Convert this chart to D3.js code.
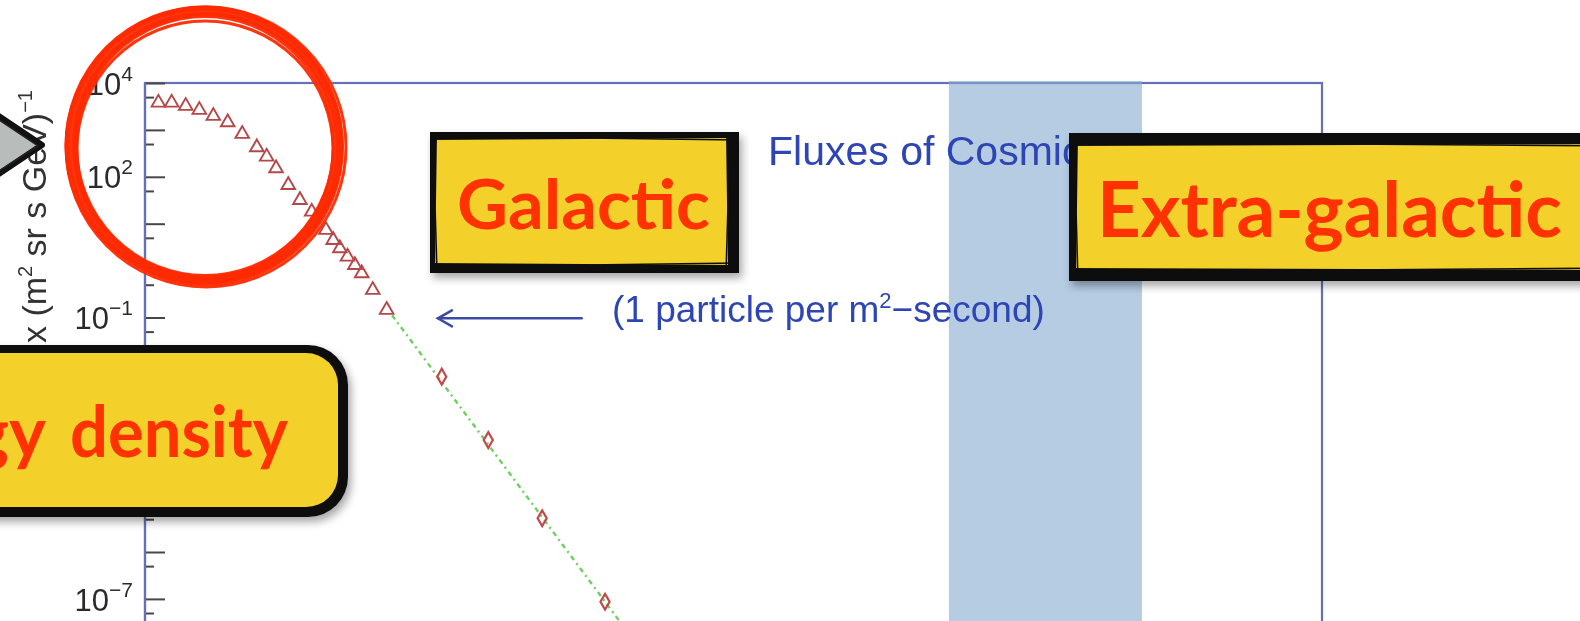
<!DOCTYPE html>
<html>
<head>
<meta charset="utf-8">
<script src="https://cdn.jsdelivr.net/npm/d3@7"></script>
<style>
  html, body { margin: 0; padding: 0; background: #ffffff; overflow: hidden; }
  svg { display: block; }
</style>
</head>
<body>
<svg id="chart" width="1580" height="621"></svg>
<script>
// ---- Measured cosmic-ray fluxes (energy in eV, flux in (m^2 sr s GeV)^-1) ----
const protonEnergy = [1.37e9, 1.87e9, 2.60e9, 3.58e9, 4.97e9, 6.97e9, 9.8e9, 1.38e10,
  1.74e10, 2.17e10, 2.89e10, 3.80e10, 5.01e10, 7.0e10, 8.3e10, 9.7e10, 1.16e11,
  1.38e11, 1.62e11, 2.10e11, 2.91e11];
const protonFlux = [3800, 3800, 3240, 2660, 1980, 1450, 818, 426, 268, 152, 66.8,
  32, 18, 7.35, 4.49, 2.99, 1.98, 1.31, 0.876, 0.386, 0.145];

const airEnergy = [1.06e12, 3.16e12, 1.12e13, 4.90e13];
const airFlux = [5.47e-3, 2.44e-4, 5.24e-6, 8.7e-8];

// power-law guide (E^-2.8) through the high-energy points
const fitEnergy = [3.3e11, 1e14];
const fitFlux = [0.112, 1.17e-8];

// shaded energy range
const bandEnergy = [1.57e17, 1.46e19];

// "1 particle per m^2-second" marker
const particleArrowEnergy = [2.83e13, 9.7e11];
const particleArrowFlux = 0.096;

// y axis ticks: every decade, half-decade minors, labels every few decades
const decadeExponents = d3.range(4, -9, -1);
const labelExponents = [4, 2, -1, -7];

const chartTitle = "Fluxes of Cosmic Rays";
const yTitleParts = ["Flux (m", "2", " sr s GeV)", "\u22121"];
const particleText = ["(1 particle per m", "2", "\u2212second)"];

const labels = { galactic: "Galactic", extra: "Extra-galactic", densityA: "Energy", densityB: "density" };

// ---- Layout ----
const W = 1580, H = 621;
const plotLeft = 145, plotRight = 1322, plotTop = 83, decadePx = 46.9;
const chartFont = "'Liberation Sans', Arial, Helvetica, sans-serif";
const blueText = "#2d45b6";
const frameColor = "#6670b8";
const yellow = "#f4d12a";
const annoRed = "#ff3000";

const x = d3.scaleLog().domain([1e9, 1e21]).range([plotLeft, plotRight]);
const y = d3.scaleLog().domain([1e4, 1e-8]).range([plotTop, plotTop + 12 * decadePx]);

const svg = d3.select("#chart");
const defs = svg.append("defs");
const shadow = defs.append("filter").attr("id", "shadow")
  .attr("x", "-20%").attr("y", "-20%").attr("width", "140%").attr("height", "150%");
shadow.append("feDropShadow").attr("dx", 3).attr("dy", 5).attr("stdDeviation", 4)
  .attr("flood-color", "#000").attr("flood-opacity", 0.35);
const soft = defs.append("filter").attr("id", "soft");
soft.append("feGaussianBlur").attr("stdDeviation", 0.5);

const chart = svg.append("g").attr("filter", "url(#soft)");

// plot frame
chart.append("rect")
  .attr("x", plotLeft).attr("y", plotTop)
  .attr("width", plotRight - plotLeft).attr("height", y.range()[1] - plotTop)
  .attr("fill", "none").attr("stroke", frameColor).attr("stroke-width", 2.2);

// shaded band
chart.append("rect")
  .attr("x", x(bandEnergy[0])).attr("y", plotTop - 2)
  .attr("width", x(bandEnergy[1]) - x(bandEnergy[0])).attr("height", H)
  .attr("fill", "#84aad0").attr("opacity", 0.6);

// title
chart.append("text")
  .attr("x", 768).attr("y", 165)
  .attr("font-family", chartFont).attr("font-size", 41)
  .attr("fill", blueText).text(chartTitle);

// y axis: decade ticks (long) and half-decade ticks (short), drawn inward
const yMajor = d3.axisLeft(y)
  .tickValues(decadeExponents.map(e => Math.pow(10, e)))
  .tickSize(-20).tickPadding(12).tickFormat(() => "");
const gMajor = chart.append("g").attr("transform", `translate(${plotLeft},0)`).call(yMajor);
gMajor.select(".domain").remove();
gMajor.attr("font-family", chartFont).attr("font-size", 31);
gMajor.selectAll(".tick line").attr("stroke", "#474747").attr("stroke-width", 2);
gMajor.selectAll(".tick").each(function (d) {
  const e = Math.round(Math.log10(d));
  const t = d3.select(this).select("text");
  if (!labelExponents.includes(e)) { t.remove(); return; }
  t.attr("fill", "#2b2b2b").attr("dy", "0.36em");
  t.append("tspan").text("10");
  t.append("tspan").attr("font-size", 21).attr("dy", -14)
    .text(String(e).replace("-", "\u2212"));
});

const yMinor = d3.axisLeft(y)
  .tickValues(decadeExponents.map(e => 5 * Math.pow(10, e - 1)))
  .tickSize(-9).tickFormat(() => "");
const gMinor = chart.append("g").attr("transform", `translate(${plotLeft},0)`).call(yMinor);
gMinor.select(".domain").remove();
gMinor.selectAll(".tick text").remove();
gMinor.selectAll(".tick line").attr("stroke", "#474747").attr("stroke-width", 2);

// left axis line on top of the ticks
chart.append("line")
  .attr("x1", plotLeft).attr("x2", plotLeft)
  .attr("y1", plotTop).attr("y2", H)
  .attr("stroke", frameColor).attr("stroke-width", 2.2);

// y axis title
const yTitle = chart.append("text")
  .attr("transform", "translate(46,90) rotate(-90)")
  .attr("text-anchor", "end")
  .attr("font-family", chartFont).attr("font-size", 34)
  .attr("fill", "#333");
yTitle.append("tspan").text(yTitleParts[0]);
yTitle.append("tspan").attr("font-size", 20).attr("dy", -14).text(yTitleParts[1]);
yTitle.append("tspan").attr("dy", 14).text(yTitleParts[2]);
yTitle.append("tspan").attr("font-size", 20).attr("dy", -14).text(yTitleParts[3]);

// power-law guide
const line = d3.line().x(d => x(d[0])).y(d => y(d[1]));
chart.append("path")
  .datum(d3.zip(fitEnergy, fitFlux))
  .attr("d", line)
  .attr("fill", "none").attr("stroke", "#6fcf62").attr("stroke-width", 2.4)
  .attr("stroke-dasharray", "5,4,2,4");

// triangles
chart.append("g").selectAll("path")
  .data(d3.zip(protonEnergy, protonFlux))
  .join("path")
  .attr("transform", d => `translate(${x(d[0])},${y(d[1])})`)
  .attr("d", d3.symbol().type(d3.symbolTriangle).size(80))
  .attr("fill", "none").attr("stroke", "#b5474a").attr("stroke-width", 1.9);

// diamonds
chart.append("g").selectAll("path")
  .data(d3.zip(airEnergy, airFlux))
  .join("path")
  .attr("transform", d => `translate(${x(d[0])},${y(d[1])})`)
  .attr("d", d3.symbol().type(d3.symbolDiamond).size(72))
  .attr("fill", "none").attr("stroke", "#c24848").attr("stroke-width", 2.2);

// particle-rate marker
const ay = y(particleArrowFlux);
const ax0 = x(particleArrowEnergy[0]), ax1 = x(particleArrowEnergy[1]);
const arrow = chart.append("g").attr("stroke", "#3d4ba6").attr("stroke-width", 2.5)
  .attr("fill", "none").attr("stroke-linecap", "round");
arrow.append("line").attr("x1", ax0).attr("x2", ax1).attr("y1", ay).attr("y2", ay);
arrow.append("path").attr("d", `M${ax1 + 14},${ay - 8} L${ax1},${ay} L${ax1 + 14},${ay + 8}`);

const pText = chart.append("text")
  .attr("x", 612).attr("y", ay + 4)
  .attr("font-family", chartFont).attr("font-size", 37)
  .attr("fill", blueText);
pText.append("tspan").text(particleText[0]);
pText.append("tspan").attr("font-size", 22).attr("dy", -14).text(particleText[1]);
pText.append("tspan").attr("dy", 14).text(particleText[2]);

// ---- Hand-drawn annotations ----
const anno = svg.append("g");

// red ring around the low-energy points
const ringStrokes = [
  { cx: 205, cy: 146, rx: 130, ry: 131, w: 6 },
  { cx: 206, cy: 147, rx: 134, ry: 135, w: 8 },
  { cx: 204, cy: 145, rx: 137, ry: 137, w: 5 },
  { cx: 206, cy: 147, rx: 140, ry: 140, w: 3 },
  { cx: 205, cy: 149, rx: 128, ry: 128, w: 3 }
];
anno.append("g").selectAll("ellipse").data(ringStrokes).join("ellipse")
  .attr("cx", d => d.cx).attr("cy", d => d.cy)
  .attr("rx", d => d.rx).attr("ry", d => d.ry)
  .attr("fill", "none").attr("stroke", "#ff2a00").attr("stroke-width", d => d.w)
  .attr("opacity", 0.95);

// grey arrow head pointing at the axis title
const arrowHead = anno.append("g");
arrowHead.append("path")
  .attr("d", "M-40,90 L42,145 L-40,200 Z")
  .attr("fill", "#b8bcba").attr("stroke", "#111").attr("stroke-width", 6)
  .attr("stroke-linejoin", "round");
arrowHead.append("path")
  .attr("d", "M-40,94 L38,146 L-40,196")
  .attr("fill", "none").attr("stroke", "#222").attr("stroke-width", 1.5);

// loose pen strokes along each box edge: [dx0, dy0, dx1, dy1, width]
const roughH = [[1, 1, -2, -1, 2], [4, -2, -1, 2, 1.5]];
const roughV = [[1, 2, -1, -3, 2], [-2, 4, 2, -1, 1.5]];

function sketchBox(box) {
  const g = anno.append("g").attr("filter", "url(#shadow)");
  const [il, it, ir, ib] = box.inset;
  g.append("rect")
    .attr("x", box.x0).attr("y", box.y0)
    .attr("width", box.x1 - box.x0).attr("height", box.y1 - box.y0)
    .attr("fill", "#111");
  g.append("rect")
    .attr("x", box.x0 + il).attr("y", box.y0 + it)
    .attr("width", box.x1 - box.x0 - il - ir)
    .attr("height", box.y1 - box.y0 - it - ib)
    .attr("fill", yellow);
  const strokes = g.append("g").attr("stroke", "#111").attr("fill", "none");
  roughH.forEach(([a, b, c, d, w]) => {
    strokes.append("line").attr("x1", box.x0 + a).attr("y1", box.y0 + it + b)
      .attr("x2", box.x1 + c).attr("y2", box.y0 + it + d).attr("stroke-width", w);
    strokes.append("line").attr("x1", box.x0 + a).attr("y1", box.y1 - ib - b)
      .attr("x2", box.x1 + c).attr("y2", box.y1 - ib - d).attr("stroke-width", w);
  });
  roughV.forEach(([a, b, c, d, w]) => {
    strokes.append("line").attr("x1", box.x0 + il + a).attr("y1", box.y0 + b)
      .attr("x2", box.x0 + il + c).attr("y2", box.y1 + d).attr("stroke-width", w);
    strokes.append("line").attr("x1", box.x1 - ir - a).attr("y1", box.y0 + b)
      .attr("x2", box.x1 - ir - c).attr("y2", box.y1 + d).attr("stroke-width", w);
  });
  return g;
}

const annoFont = "Lato, 'Open Sans', sans-serif";

const gal = sketchBox({ x0: 430, y0: 132, x1: 739, y1: 273, inset: [5, 6, 11, 8] });
gal.append("text").attr("x", 457).attr("y", 229)
  .attr("font-family", annoFont).attr("font-weight", 700).attr("font-size", 69)
  .attr("textLength", 253).attr("lengthAdjust", "spacingAndGlyphs")
  .attr("fill", annoRed).text(labels.galactic);

const extra = sketchBox({ x0: 1069, y0: 133, x1: 1620, y1: 281, inset: [7, 11, 0, 11] });
extra.append("text").attr("x", 1097).attr("y", 237)
  .attr("font-family", annoFont).attr("font-weight", 700).attr("font-size", 76)
  .attr("textLength", 465).attr("lengthAdjust", "spacingAndGlyphs")
  .attr("fill", annoRed).text(labels.extra);

// rounded box, running off the left edge
const dens = anno.append("g").attr("filter", "url(#shadow)");
dens.append("rect").attr("x", -80).attr("y", 345).attr("width", 428).attr("height", 172)
  .attr("rx", 40).attr("fill", "#111");
dens.append("rect").attr("x", -80).attr("y", 353).attr("width", 418).attr("height", 154)
  .attr("rx", 32).attr("fill", yellow);
dens.append("rect").attr("x", -78).attr("y", 348).attr("width", 422).attr("height", 165)
  .attr("rx", 36).attr("fill", "none").attr("stroke", "#111").attr("stroke-width", 1.5);
dens.append("text").attr("x", 46).attr("y", 457).attr("text-anchor", "end")
  .attr("font-family", annoFont).attr("font-weight", 700).attr("font-size", 70)
  .attr("fill", annoRed).text(labels.densityA);
dens.append("text").attr("x", 70).attr("y", 457)
  .attr("font-family", annoFont).attr("font-weight", 700).attr("font-size", 70)
  .attr("textLength", 218).attr("lengthAdjust", "spacingAndGlyphs")
  .attr("fill", annoRed).text(labels.densityB);
</script>
</body>
</html>
